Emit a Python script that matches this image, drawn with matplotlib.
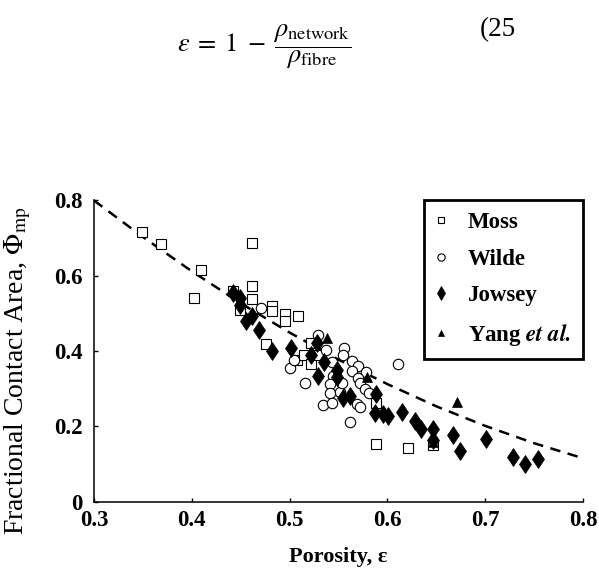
import matplotlib
matplotlib.use("Agg")
import matplotlib.pyplot as plt

plt.rcParams['font.family'] = ['Liberation Serif', 'DejaVu Serif']
plt.rcParams['mathtext.fontset'] = 'stix'

# data
moss_x = [0.349, 0.369, 0.409, 0.402, 0.442, 0.449, 0.462, 0.462, 0.462, 0.476, 0.482, 0.482,
          0.495, 0.495, 0.509, 0.508, 0.515, 0.522, 0.522, 0.529, 0.588, 0.588, 0.621, 0.647]
moss_y = [0.717, 0.685, 0.614, 0.542, 0.559, 0.510, 0.686, 0.574, 0.537, 0.419, 0.520, 0.506,
          0.498, 0.480, 0.493, 0.375, 0.389, 0.422, 0.366, 0.389, 0.262, 0.154, 0.142, 0.150]

wilde_x = [0.471, 0.500, 0.504, 0.516, 0.529, 0.537, 0.543, 0.544, 0.541, 0.541, 0.552, 0.554,
           0.556, 0.555, 0.564, 0.570, 0.564, 0.578, 0.570, 0.572, 0.577, 0.581, 0.534, 0.543,
           0.569, 0.572, 0.562, 0.611]
wilde_y = [0.514, 0.355, 0.375, 0.314, 0.442, 0.402, 0.371, 0.333, 0.313, 0.288, 0.290, 0.315,
           0.408, 0.390, 0.373, 0.359, 0.347, 0.344, 0.329, 0.314, 0.300, 0.288, 0.256, 0.263,
           0.259, 0.250, 0.212, 0.365]

jowsey_x = [0.442, 0.449, 0.449, 0.462, 0.455, 0.469, 0.482, 0.501, 0.528, 0.522, 0.535, 0.548,
            0.548, 0.529, 0.562, 0.555, 0.588, 0.587, 0.595, 0.601, 0.615, 0.628, 0.634, 0.647,
            0.647, 0.667, 0.674, 0.701, 0.728, 0.741, 0.754]
jowsey_y = [0.554, 0.540, 0.521, 0.493, 0.481, 0.457, 0.400, 0.408, 0.420, 0.389, 0.371, 0.349,
            0.331, 0.333, 0.280, 0.275, 0.285, 0.235, 0.232, 0.227, 0.237, 0.214, 0.194, 0.193,
            0.164, 0.178, 0.134, 0.166, 0.119, 0.099, 0.113]

yang_x = [0.538, 0.579, 0.671, 0.647]
yang_y = [0.435, 0.331, 0.265, 0.158]

# dashed model curve, read at steps of 0.05
curve_x = [0.30, 0.35, 0.40, 0.45, 0.50, 0.55, 0.60, 0.65, 0.70, 0.75, 0.80]
curve_y = [0.800, 0.703, 0.612, 0.527, 0.449, 0.377, 0.312, 0.253, 0.201, 0.155, 0.115]

xticks = [0.3, 0.4, 0.5, 0.6, 0.7, 0.8]
xtick_labels = ['0.3', '0.4', '0.5', '0.6', '0.7', '0.8']
yticks = [0, 0.2, 0.4, 0.6, 0.8]
ytick_labels = ['0', '0.2', '0.4', '0.6', '0.8']

fig = plt.figure(figsize=(5.99, 5.74), dpi=100)
ax = fig.add_axes([0.1569, 0.1263, 0.8164, 0.5244])

ax.plot(curve_x, curve_y, color='black', lw=1.8, ls=(0, (4.2, 3.0)), clip_on=False)

ax.plot(moss_x, moss_y, ls='none', marker='s', ms=7, mfc='white', mec='black', mew=0.8, label='Moss')
ax.plot(wilde_x, wilde_y, ls='none', marker='o', ms=7.5, mfc='white', mec='black', mew=0.8, label='Wilde')
ax.plot(jowsey_x, jowsey_y, ls='none', marker='d', ms=9.5, mfc='black', mec='black', mew=0.5, label='Jowsey')
ax.plot(yang_x, yang_y, ls='none', marker='^', ms=7, mfc='black', mec='black', mew=0.5,
        label=r'Yang $\mathbfit{et\ al.}$')

ax.set_xlim(0.3, 0.8)
ax.set_ylim(0, 0.8)
ax.set_xticks(xticks)
ax.set_xticklabels(xtick_labels)
ax.set_yticks(yticks)
ax.set_yticklabels(ytick_labels)
ax.spines['top'].set_visible(False)
ax.spines['right'].set_visible(False)
for s in ['left', 'bottom']:
    ax.spines[s].set_linewidth(1.1)
ax.tick_params(direction='in', length=3, width=1, labelsize=16.5)
ax.tick_params(axis='y', pad=8)
ax.tick_params(axis='x', pad=6)
for lab in ax.get_xticklabels() + ax.get_yticklabels():
    lab.set_fontweight('bold')

ax.set_xlabel('Porosity, ε', fontsize=16, fontweight='bold')
ax.xaxis.set_label_coords(0.5, -0.15)
ax.set_ylabel(r'Fractional Contact Area, $\Phi_{\mathrm{mp}}$', fontsize=20)
ax.yaxis.set_label_coords(-0.125, 0.434)

leg = ax.legend(loc='upper left', bbox_to_anchor=(0.675, 0.45, 0.325, 0.55), mode='expand',
                borderaxespad=0, fancybox=False, markerscale=0.7, handlelength=0.5,
                handletextpad=0.9, borderpad=0.5, labelspacing=0.68,
                prop={'size': 16.5, 'weight': 'bold'})
leg.get_frame().set_edgecolor('black')
leg.get_frame().set_linewidth(2)
leg.get_frame().set_alpha(1)

fig.text(264 / 599, 1 - 47 / 574,
         r'$\varepsilon\;=\;1\;-\;\dfrac{\rho_{\mathrm{network}}}{\rho_{\mathrm{fibre}}}$',
         fontsize=19, ha='center', va='center')
fig.text(480 / 599, 1 - 30 / 574, '(25', fontsize=19.5, ha='left', va='center')

fig.savefig('out.png', dpi=100)
